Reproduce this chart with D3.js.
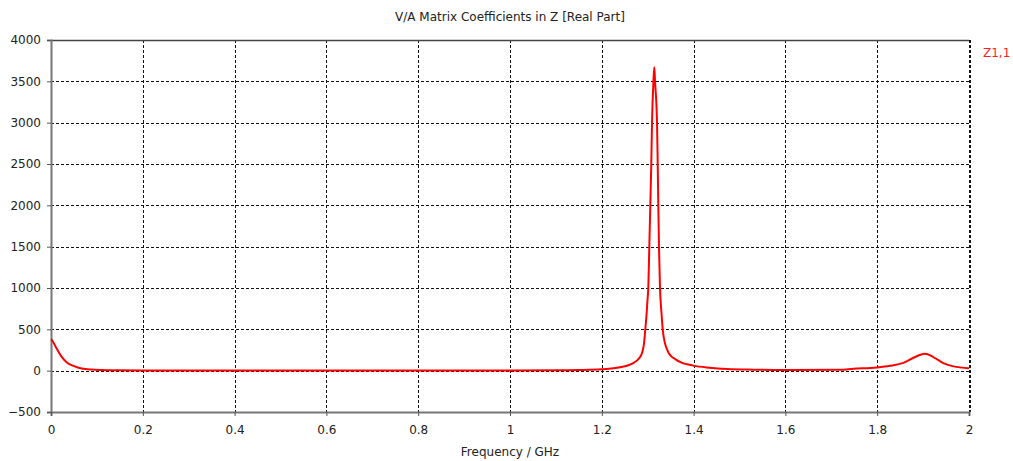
<!DOCTYPE html>
<html>
<head>
<meta charset="utf-8">
<script src="https://cdn.jsdelivr.net/npm/d3@7"></script>
<style>
  html, body { margin: 0; padding: 0; background: #fff; }
  svg { display: block; }
  text { font-family: "DejaVu Sans", sans-serif; font-size: 12px; fill: #222; }
</style>
</head>
<body>
<svg id="chart" width="1013" height="461"></svg>
<script>
// Re(Z1,1) versus frequency (GHz)
const freqGHz = [
  0.000, 0.002, 0.012, 0.023, 0.034, 0.049, 0.067, 0.089, 0.110, 0.150, 0.200,
  0.400, 0.600, 0.800, 1.000, 1.100, 1.150, 1.200, 1.240, 1.265, 1.283,
  1.288, 1.292, 1.2948, 1.2975, 1.2995, 1.3013, 1.3035, 1.3057, 1.3078, 1.3094, 1.3125, 1.3144,
  1.3160, 1.3203, 1.3218, 1.3231, 1.3246, 1.3268, 1.3300, 1.3327, 1.3377, 1.3420,
  1.3460, 1.3520, 1.3600, 1.3704, 1.3994, 1.4357, 1.4720, 1.5300, 1.6000, 1.7190, 1.7480,
  1.7990, 1.8280, 1.8570, 1.8790, 1.9040, 1.9220, 1.9440, 1.9660, 2.0000
];
const reZ11 = [
  380, 370, 271, 170, 101, 57, 25, 13, 8, 4, 2,
  1, 1, 1, 2, 5, 8, 17, 41, 81, 162,
  220, 330, 500, 680, 850, 1000, 1500, 2000, 2500, 3000, 3500, 3670,
  3500, 3000, 2500, 2000, 1500, 1000, 700, 500, 330, 260,
  210, 170, 140, 105, 61, 36, 21, 12, 8, 11, 23,
  39, 59, 95, 156, 205, 165, 92, 52, 30
];
const xTicks = [0, 0.2, 0.4, 0.6, 0.8, 1, 1.2, 1.4, 1.6, 1.8, 2];
const yTicks = [-500, 0, 500, 1000, 1500, 2000, 2500, 3000, 3500, 4000];

const titleText = "V/A Matrix Coefficients in Z [Real Part]";
const xLabel = "Frequency / GHz";
const seriesName = "Z1,1";

const svg = d3.select("#chart");
const m = { left: 51, right: 969, top: 40, bottom: 412 };

const x = d3.scaleLinear().domain([0, 2]).range([m.left, m.right]);
const y = d3.scaleLinear().domain([-500, 4000]).range([m.bottom, m.top]);

// grid
const grid = svg.append("g").attr("stroke", "#111").attr("stroke-dasharray", "3,2").attr("shape-rendering", "crispEdges");
grid.selectAll("line.v").data(xTicks.filter(d => d > 0)).join("line")
  .attr("x1", d => Math.round(x(d)) + 0.5).attr("x2", d => Math.round(x(d)) + 0.5)
  .attr("y1", m.top).attr("y2", m.bottom)
  .attr("stroke-width", d => d === 2 ? 2 : 1);
grid.selectAll("line.h").data(yTicks.filter(d => d > -500 && d < 4000)).join("line")
  .attr("y1", d => Math.round(y(d)) + 0.5).attr("y2", d => Math.round(y(d)) + 0.5)
  .attr("x1", m.left).attr("x2", m.right);

// frame: top border, left and bottom axes
svg.append("line").attr("x1", m.left).attr("x2", m.right).attr("y1", m.top + 0.5).attr("y2", m.top + 0.5)
  .attr("stroke", "#444").attr("stroke-width", 1.5);

const yAxis = d3.axisLeft(y).tickValues(yTicks).tickSize(4).tickPadding(6).tickFormat(d3.format("d"));
const gy = svg.append("g").attr("transform", `translate(${m.left},0)`).call(yAxis);
const xAxis = d3.axisBottom(x).tickValues(xTicks).tickSize(4).tickPadding(9).tickFormat(d => String(d));
const gx = svg.append("g").attr("transform", `translate(0,${m.bottom})`).call(xAxis);
[gx, gy].forEach(g => {
  g.select(".domain").attr("stroke", "#777").attr("stroke-width", 2);
  g.selectAll(".tick line").attr("stroke", "#555");
  g.selectAll("text").attr("font-family", "DejaVu Sans, sans-serif").attr("font-size", 12).attr("fill", "#222");
});

// curve
svg.append("path")
  .datum(freqGHz.map((f, i) => [f, reZ11[i]]))
  .attr("fill", "none").attr("stroke", "#ff0000").attr("stroke-width", 2)
  .attr("stroke-linejoin", "round")
  .attr("d", d3.line().x(d => x(d[0])).y(d => y(d[1])).curve(d3.curveMonotoneX));

// titles
svg.append("text").attr("x", (m.left + m.right) / 2).attr("y", 21).attr("text-anchor", "middle").text(titleText);
svg.append("text").attr("x", (m.left + m.right) / 2).attr("y", 456).attr("text-anchor", "middle").text(xLabel);
svg.append("text").attr("x", 983).attr("y", 57).style("fill", "#ff2020").text(seriesName);
</script>
</body>
</html>
